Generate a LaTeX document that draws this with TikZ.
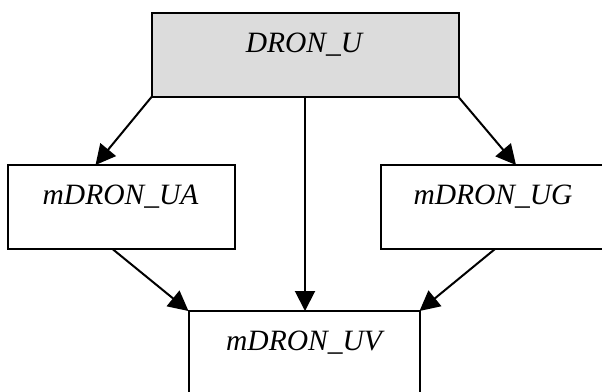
\documentclass[tikz,border=0pt]{standalone}
\usepackage{fontspec}
\setmainfont{Liberation Serif}
\usetikzlibrary{arrows.meta,calc}
\definecolor{boxgray}{HTML}{DCDCDC}
\begin{document}
\begin{tikzpicture}[x=1pt,y=-1pt,
  box/.style={draw=black,line width=2pt,rectangle,inner sep=0pt,outer sep=0pt,minimum height=84pt},
  lbl/.style={anchor=base,inner sep=0pt,font=\fontsize{29.5}{34}\selectfont\itshape},
  conn/.style={line width=2pt,-{Triangle[length=20pt,width=20pt]}}]
\useasboundingbox (0,0) rectangle (602,391);
\clip (0,0) rectangle (602,391);
\node[box,fill=boxgray,minimum width=307pt] (U) at (305,55) {};
\node[box,fill=white,minimum width=227pt] (UA) at (121,207) {};
\node[box,fill=white,minimum width=224pt] (UG) at (493,207) {};
\node[box,fill=white,minimum width=231pt] (UV) at (304,353) {};
\node[lbl] (tU) at (304,52) {DRON\_U};
\node[lbl] (tUA) at (120.5,204) {mDRON\_UA};
\node[lbl] (tUG) at (493,204) {mDRON\_UG};
\node[lbl] (tUV) at (304,350) {mDRON\_UV};
\draw[conn] (U.south west) -- ($(UA.north west)+(88,0)$);
\draw[conn] (U.south) -- (U.south |- UV.north);
\draw[conn] (U.south east) -- ($(UG.north west)+(135,0)$);
\draw[conn] ($(UA.south west)+(105,0)$) -- (UV.north west);
\draw[conn] ($(UG.south west)+(114,0)$) -- (UV.north east);
\end{tikzpicture}
\end{document}
